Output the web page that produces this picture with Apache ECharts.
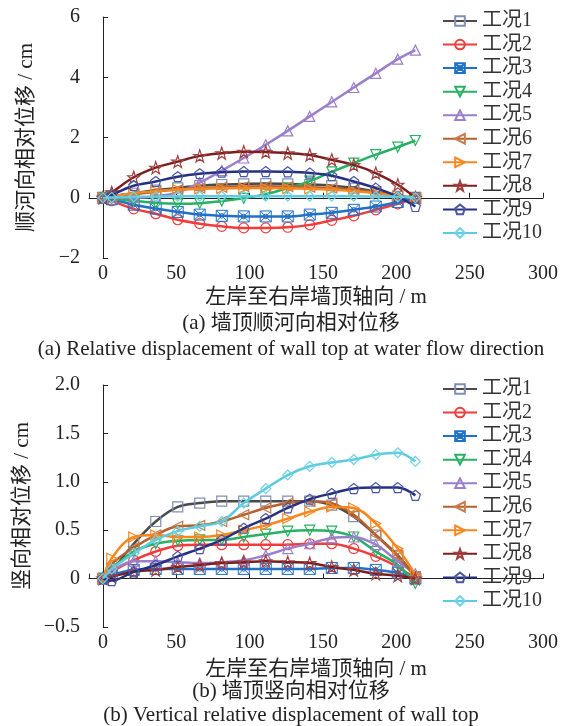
<!DOCTYPE html>
<html>
<head>
<meta charset="utf-8">
<script src="https://cdn.jsdelivr.net/npm/echarts@6/dist/echarts.min.js"></script>
<style>
  html, body { margin: 0; padding: 0; background: #fff; }
  #main { width: 582px; height: 726px; }
</style>
</head>
<body>
<div id="main"></div>
<script>
  // 测点位置 (m)
  var xPos = [0, 6, 21, 36, 51, 66, 81, 96, 111, 126, 141, 156, 171, 186, 201, 213];
  var names = ["工况1", "工况2", "工况3", "工况4", "工况5", "工况6", "工况7", "工况8", "工况9", "工况10"];

  // (a) 顺河向相对位移 / cm
  var a1 = [0, 0.05, 0.15, 0.25, 0.33, 0.4, 0.44, 0.46, 0.47, 0.46, 0.44, 0.4, 0.32, 0.2, 0.05, 0];
  var a2 = [0, -0.1, -0.37, -0.53, -0.73, -0.86, -0.95, -1.0, -1.0, -0.98, -0.9, -0.75, -0.6, -0.4, -0.2, 0];
  var a3 = [0, -0.05, -0.23, -0.36, -0.47, -0.56, -0.6, -0.62, -0.62, -0.62, -0.56, -0.5, -0.4, -0.29, -0.14, 0];
  var a4 = [0, -0.03, -0.1, -0.17, -0.2, -0.18, -0.11, -0.02, 0.12, 0.32, 0.55, 0.86, 1.15, 1.43, 1.68, 1.9];
  var a5 = [0, 0, 0, 0.05, 0.18, 0.5, 0.9, 1.32, 1.76, 2.22, 2.7, 3.18, 3.66, 4.13, 4.6, 4.9];
  var a6 = [0, 0.04, 0.12, 0.2, 0.27, 0.32, 0.35, 0.37, 0.38, 0.37, 0.35, 0.32, 0.27, 0.18, 0.07, 0];
  var a7 = [0, 0.05, 0.15, 0.22, 0.27, 0.3, 0.31, 0.32, 0.32, 0.31, 0.3, 0.27, 0.22, 0.15, 0.06, 0];
  var a8 = [0, 0.18, 0.68, 1.0, 1.2, 1.39, 1.48, 1.53, 1.52, 1.48, 1.42, 1.26, 1.09, 0.82, 0.43, 0];
  var a9 = [0, 0.1, 0.4, 0.54, 0.7, 0.8, 0.85, 0.87, 0.87, 0.86, 0.82, 0.73, 0.54, 0.32, 0.04, -0.29];
  var a10 = [0, 0.01, 0.03, 0.04, 0.05, 0.05, 0.05, 0.05, 0.05, 0.05, 0.05, 0.05, 0.05, 0.04, 0.03, 0];

  // (b) 竖向相对位移 / cm
  var b1 = [0, 0.08, 0.36, 0.59, 0.74, 0.78, 0.8, 0.8, 0.8, 0.8, 0.8, 0.76, 0.64, 0.45, 0.24, 0.02];
  var b2 = [0, 0.07, 0.19, 0.28, 0.34, 0.35, 0.35, 0.35, 0.35, 0.35, 0.36, 0.36, 0.31, 0.23, 0.12, 0];
  var b3 = [0, 0.04, 0.09, 0.1, 0.1, 0.1, 0.1, 0.1, 0.1, 0.1, 0.1, 0.11, 0.11, 0.09, 0.06, 0];
  var b4 = [0, 0.1, 0.28, 0.36, 0.39, 0.4, 0.4, 0.43, 0.46, 0.49, 0.5, 0.49, 0.43, 0.28, 0.14, -0.05];
  var b5 = [0, 0.08, 0.18, 0.18, 0.17, 0.16, 0.17, 0.19, 0.24, 0.31, 0.36, 0.42, 0.43, 0.35, 0.18, 0.05];
  var b6 = [0, 0.15, 0.32, 0.45, 0.54, 0.55, 0.59, 0.66, 0.73, 0.78, 0.8, 0.78, 0.66, 0.45, 0.23, 0.02];
  var b7 = [0, 0.21, 0.43, 0.45, 0.43, 0.43, 0.45, 0.5, 0.55, 0.62, 0.69, 0.74, 0.73, 0.57, 0.31, 0.04];
  var b8 = [0, 0.02, 0.07, 0.09, 0.12, 0.14, 0.16, 0.17, 0.18, 0.17, 0.16, 0.12, 0.09, 0.05, 0.03, 0];
  var b9 = [0, -0.02, 0.07, 0.14, 0.23, 0.31, 0.4, 0.52, 0.62, 0.73, 0.82, 0.88, 0.93, 0.94, 0.94, 0.86];
  var b10 = [0, 0.1, 0.26, 0.4, 0.49, 0.54, 0.59, 0.78, 0.93, 1.07, 1.16, 1.2, 1.23, 1.28, 1.3, 1.21];

  var aData = [a1, a2, a3, a4, a5, a6, a7, a8, a9, a10];
  var bData = [b1, b2, b3, b4, b5, b6, b7, b8, b9, b10];

  var lineColors = ["#4a4a4a", "#f03c3c", "#2070c8", "#28b064", "#9b7fcb",
                    "#b4612d", "#f7871f", "#7d1e1e", "#25307f", "#5ccbe0"];
  var markColors = ["#7f8fb0", "#f03c3c", "#2070c8", "#28b064", "#9b7fcb",
                    "#c87a48", "#f7871f", "#a04040", "#4a55a8", "#6fd3e6"];

  var STAR = "path://M5,0L6.18,3.38L9.76,3.45L6.9,5.62L7.94,9.05L5,7L2.06,9.05L3.1,5.62L0.24,3.45L3.82,3.38Z";
  var PENTA = "path://M5,0L9.76,3.45L7.94,9.05L2.06,9.05L0.24,3.45Z";
  var BOXX = "path://M0,0L12,0L12,12L0,12Z M0,0L12,12 M12,0L0,12 M8.5,6A2.5,2.5 0 1 1 3.5,6A2.5,2.5 0 1 1 8.5,6Z";
  var symbols = ["rect", "circle", BOXX, "triangle", "triangle", "triangle", "triangle", STAR, PENTA, "diamond"];
  var rotates = [0, 0, 0, 180, 0, 90, -90, 0, 0, 0];

  var serif = "'Liberation Serif', 'Noto Sans CJK SC', serif";
  var axisColor = "#222";

  function pairs(arr) {
    return arr.map(function(v, i) { return [xPos[i], v]; });
  }

  function makeSeries(dataList, idx) {
    return dataList.map(function(arr, k) {
      return {
        name: names[k],
        type: "line",
        xAxisIndex: idx,
        yAxisIndex: idx,
        smooth: 0.35,
        symbol: symbols[k],
        symbolRotate: rotates[k],
        symbolSize: k === 7 ? 12 : (k === 2 ? 11 : 10),
        lineStyle: { color: lineColors[k], width: 2.5 },
        itemStyle: { color: "rgba(0,0,0,0)", borderColor: markColors[k], borderWidth: k === 2 ? 1 : 1.2 },
        data: pairs(arr),
        z: 2 + k
      };
    });
  }

  function xAxisOpt(idx) {
    return {
      type: "value",
      gridIndex: idx,
      min: -9.5,
      max: 300,
      splitNumber: 6,
      name: "左岸至右岸墙顶轴向 / m",
      nameLocation: "middle",
      nameGap: idx === 0 ? 29 : 32,
      nameTextStyle: { fontFamily: serif, fontSize: 21, color: "#222" },
      axisLine: { lineStyle: { color: axisColor, width: 1 } },
      axisTick: { inside: true, length: 5, lineStyle: { color: axisColor } },
      axisLabel: {
        fontFamily: serif, fontSize: 20, color: "#222", margin: 6,
        formatter: function(v) { return v < 0 ? "" : String(v); }
      },
      splitLine: { show: false }
    };
  }

  function yAxisOpt(idx) {
    var isA = idx === 0;
    return {
      type: "value",
      gridIndex: idx,
      min: isA ? -2 : -0.5,
      max: isA ? 6 : 2,
      interval: isA ? 2 : 0.5,
      name: isA ? "顺河向相对位移 / cm" : "竖向相对位移 / cm",
      nameLocation: "middle",
      nameGap: 52,
      nameTextStyle: { fontFamily: serif, fontSize: 21, color: "#222" },
      axisLine: { show: true, lineStyle: { color: axisColor, width: 1 } },
      axisTick: { show: true, inside: true, length: 5, lineStyle: { color: axisColor } },
      axisLabel: {
        fontFamily: serif, fontSize: 20, color: "#222", margin: 9,
        formatter: function(v) {
          var s = v === 0 ? "0" : (isA ? String(v) : v.toFixed(1));
          return s.replace("-", "\u2212");
        }
      },
      splitLine: { show: false }
    };
  }

  function legendOpt(top) {
    return {
      orient: "vertical",
      left: 442,
      top: top,
      padding: 0,
      itemWidth: 34,
      itemHeight: 12,
      itemGap: 3.55,
      data: names,
      textStyle: { fontFamily: serif, fontSize: 20, color: "#333", lineHeight: 20 }
    };
  }

  function caption(text, y) {
    return {
      type: "text",
      left: "center",
      top: y,
      style: { text: text, font: "21px " + serif, fill: "#222" }
    };
  }

  var chart = echarts.init(document.getElementById("main"), null, { renderer: "canvas" });

  chart.setOption({
    animation: false,
    backgroundColor: "#fff",
    grid: [
      { left: 89, right: 39, top: 17, height: 241 },
      { left: 89, right: 39, top: 385, height: 242 }
    ],
    xAxis: [xAxisOpt(0), xAxisOpt(1)],
    yAxis: [yAxisOpt(0), yAxisOpt(1)],
    legend: [legendOpt(11), legendOpt(379)],
    graphic: [
      caption("(a) 墙顶顺河向相对位移", 313),
      caption("(a) Relative displacement of wall top at water flow direction", 339),
      caption("(b) 墙顶竖向相对位移", 681),
      caption("(b) Vertical relative displacement of wall top", 705)
    ],
    series: makeSeries(aData, 0).concat(makeSeries(bData, 1))
  });
</script>
</body>
</html>
